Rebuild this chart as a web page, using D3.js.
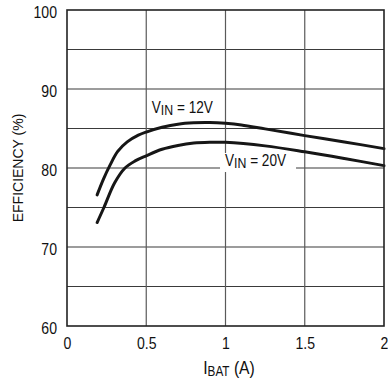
<!DOCTYPE html>
<html><head><meta charset="utf-8">
<script src="https://cdn.jsdelivr.net/npm/d3@7"></script>
<style>body{margin:0;background:#fff} svg{display:block}</style>
</head><body><svg id="c" width="388" height="380"></svg>
<script>
// ---- data ----
const xTickValues = [0, 0.5, 1, 1.5, 2];
const xTickLabels = ["0", "0.5", "1", "1.5", "2"];
const yTickValues = [60, 70, 80, 90, 100];
const yGridValues = [65, 70, 75, 80, 85, 90, 95];
const xGridValues = [0.5, 1, 1.5];
const iBat12 = [0.19, 0.23, 0.27, 0.32, 0.38, 0.45, 0.5, 0.6, 0.7, 0.8, 0.9, 1.0, 1.1, 1.25, 1.5, 1.75, 2.0];
const eff12  = [76.6, 78.6, 80.3, 82.1, 83.3, 84.15, 84.55, 85.15, 85.55, 85.72, 85.75, 85.65, 85.45, 84.95, 84.1, 83.3, 82.45];
const iBat20 = [0.19, 0.233, 0.3, 0.366, 0.43, 0.5, 0.6, 0.7, 0.8, 0.9, 1.0, 1.25, 1.5, 1.75, 2.0];
const eff20  = [73.1, 75.0, 78.1, 80.0, 80.9, 81.55, 82.37, 82.85, 83.15, 83.25, 83.25, 82.8, 82.05, 81.2, 80.3];
const seriesNames = ["12V", "20V"];
const xTitle = ["I", "BAT", " (A)"];
const yTitle = "EFFICIENCY (%)";

// ---- layout ----
const L = 67, R = 384, T = 10, B = 326;
const FONT = "'Liberation Sans', Arial, sans-serif";
const svg = d3.select("#c");
const x = d3.scaleLinear().domain([0, 2]).range([L, R]);
const y = d3.scaleLinear().domain([60, 100]).range([B, T]);

// grid
svg.append("g").selectAll("line").data(yGridValues).join("line")
  .attr("x1", L).attr("x2", R).attr("y1", d => y(d)).attr("y2", d => y(d))
  .attr("stroke", "#3a3a3a").attr("stroke-width", 1.2);
svg.append("g").selectAll("line").data(xGridValues).join("line")
  .attr("y1", T).attr("y2", B).attr("x1", d => x(d)).attr("x2", d => x(d))
  .attr("stroke", "#5a5a5a").attr("stroke-width", 1.2);

// curves
const line = d3.line().x(d => x(d[0])).y(d => y(d[1])).curve(d3.curveCatmullRom.alpha(0.5));
const series = [d3.zip(iBat12, eff12), d3.zip(iBat20, eff20)];
svg.append("g").selectAll("path").data(series).join("path")
  .attr("d", line).attr("fill", "none").attr("stroke", "#161616")
  .attr("stroke-width", 3).attr("stroke-linecap", "round");

// frame
svg.append("rect").attr("x", L).attr("y", T).attr("width", R - L).attr("height", B - T)
  .attr("fill", "none").attr("stroke", "#222").attr("stroke-width", 1.6);

// axes
const sx = 0.88;
const ya = svg.append("g").attr("transform", `translate(${L},0)`)
  .call(d3.axisLeft(y).tickValues(yTickValues).tickSize(0).tickPadding(10));
ya.select(".domain").remove();
ya.selectAll("text").attr("font-family", FONT).attr("font-size", 16).attr("fill", "#111")
  .attr("x", -10 / sx).attr("dy", "0.44em").attr("transform", `scale(${sx},1)`);

const xa = svg.append("g").attr("transform", `translate(0,${B})`)
  .call(d3.axisBottom(x).tickValues(xTickValues).tickFormat((d, i) => xTickLabels[i]).tickSize(0));
xa.select(".domain").remove();
xa.selectAll("text").attr("font-family", FONT).attr("font-size", 16).attr("fill", "#111")
  .attr("y", 23).attr("dy", 0).attr("transform", `scale(${sx},1)`);

// x title
const xt = svg.append("text").attr("font-family", FONT).attr("fill", "#111")
  .attr("text-anchor", "middle")
  .attr("transform", `translate(229,373.7) scale(0.84,1)`);
xt.append("tspan").attr("font-size", 18.7).text(xTitle[0]);
xt.append("tspan").attr("font-size", 14).attr("dy", 2.6).text(xTitle[1]);
xt.append("tspan").attr("font-size", 18.7).attr("dy", -2.6).text(xTitle[2]);

// y title
svg.append("text").attr("font-family", FONT).attr("font-size", 14).attr("fill", "#111")
  .attr("text-anchor", "middle")
  .attr("transform", "translate(23,168) rotate(-90)").text(yTitle);

// series labels
function seriesLabel(px, py, name, bg) {
  const g = svg.append("g");
  if (bg) g.append("rect").attr("x", px - 5).attr("y", py - 13).attr("width", 76).attr("height", 19).attr("fill", "#fff");
  const t = g.append("text").attr("font-family", FONT).attr("fill", "#111")
    .attr("transform", `translate(${px},${py}) scale(0.85,1)`);
  t.append("tspan").attr("font-size", 16).text("V");
  t.append("tspan").attr("font-size", 14.5).attr("dy", 2.3).text("IN");
  t.append("tspan").attr("font-size", 16).attr("dy", -2.3).text(" = " + name);
}
seriesLabel(x(0.535), y(86.96), seriesNames[0], false);
seriesLabel(x(0.997), y(80.25), seriesNames[1], true);
</script></body></html>
